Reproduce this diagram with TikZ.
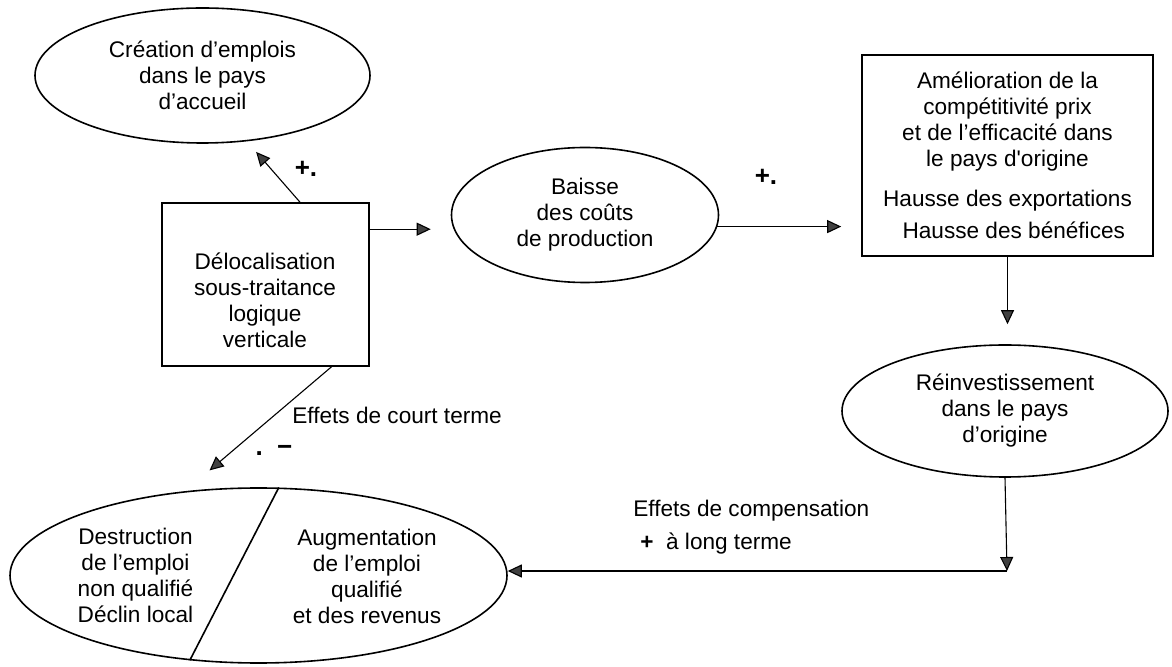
\documentclass[tikz,border=0pt]{standalone}
\usepackage{fontspec}
\setmainfont{Liberation Sans}
\usetikzlibrary{shapes.geometric,arrows.meta,calc}

\begin{document}
\begin{tikzpicture}[x=0.5pt,y=-0.5pt,
  every node/.style={font=\fontsize{11.3}{13}\selectfont,align=center},
  oval/.style={draw,ellipse,line width=0.8pt,inner sep=0pt},
  box/.style={draw,rectangle,line width=0.8pt,inner sep=0pt},
  arr/.style={-{Triangle[length=7pt,width=6.5pt,fill=black!75]},line width=0.55pt},
  sign/.style={font=\fontsize{13}{13}\selectfont\bfseries,inner sep=0pt}]
\useasboundingbox (0,0) rectangle (1172,667);

\node[oval,minimum width=167.5pt,minimum height=67.5pt] (creation) at (202.5,75.5) {Création d’emplois\\dans le pays\\d’accueil};
\node[box,minimum width=103.5pt,minimum height=81.5pt] (deloc) at (265.5,284.5) {};
\node (deloctxt) at (265,300) {Délocalisation\\sous-traitance\\logique\\verticale};
\node[oval,minimum width=133.5pt,minimum height=67.5pt] (baisse) at (585,215) {Baisse\\des coûts\\de production};
\node[box,minimum width=145.5pt,minimum height=100.5pt] (amelio) at (1007.5,155.5) {Amélioration de la\\compétitivité prix\\et de l’efficacité dans\\le pays d\textquotesingle origine\\[7pt]Hausse des exportations\\[3pt]\ \ Hausse des bénéfices};
\node[oval,minimum width=163pt,minimum height=66pt] (reinv) at (1005,411) {Réinvestissement\\dans le pays\\d’origine};
\node[oval,minimum width=248.5pt,minimum height=87.5pt] (emploi) at (258.5,575.5) {};
\node (destr) at (135.5,575) {Destruction\\de l’emploi\\non qualifié\\Déclin local};
\node (augm) at (367,576) {Augmentation\\de l’emploi\\qualifié\\et des revenus};
\draw[line width=0.8pt] (emploi.77) -- (emploi.231);

\coordinate (dout) at ($(deloc.north east)+(0,27)$);
\coordinate (coin) at (1007,571);
\draw[arr,shorten >=7pt] ($(deloc.north)+(34.5,0)$) -- (creation.-56);
\draw[arr,shorten >=10pt] (dout) -- (dout -| baisse.west);
\draw[arr,shorten >=10pt] (baisse.355) -- (baisse.355 -| amelio.west);
\draw[arr,shorten >=10pt] (amelio.south) -- (amelio.south |- reinv.north);
\draw[arr] (reinv.south) -- (coin);
\draw[arr] (coin) -- (coin -| emploi.east);
\draw[arr,shorten >=16pt] ($(deloc.south)+(66,0)$) -- (emploi.131);

\node[sign] (plusa) at (306,169) {+.};
\node[sign] (plusb) at (766,177) {+.};
\node[anchor=west,inner sep=0pt] (court) at (292,415) {Effets de court terme};
\node[sign] (moins) at (274,450) {.\ \ −};
\node[anchor=west,inner sep=0pt] (compens) at (633,511) {Effets de compensation};
\node[anchor=west,inner sep=0pt] (long) at (640,544) {{\bfseries +}\ \ à long terme};
\end{tikzpicture}
\end{document}
